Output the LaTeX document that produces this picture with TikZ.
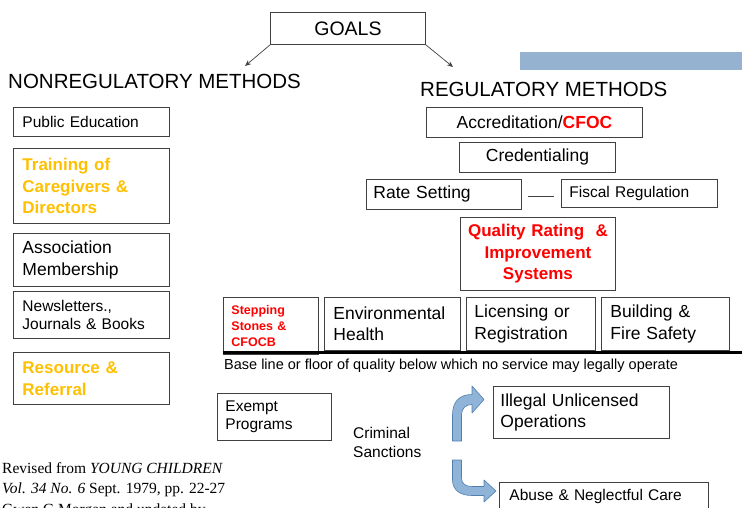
\documentclass[tikz,border=0pt]{standalone}
\usepackage{fontspec}
\setmainfont{Liberation Sans}
\newfontfamily\serifrm{Liberation Serif}
\usepackage{xcolor}
\usepackage{tikz}
\usetikzlibrary{arrows.meta}

\definecolor{goldtext}{HTML}{FFC000}
\definecolor{redtext}{HTML}{FF0000}
\definecolor{bandblue}{HTML}{95B3D0}
\definecolor{arrowfill}{HTML}{8FB4D8}
\definecolor{arrowline}{HTML}{4F7FAF}
\definecolor{boxline}{HTML}{404040}

\tikzset{
  method/.style={draw=boxline, line width=0.9pt, anchor=north west, align=left, inner xsep=9pt, inner ysep=0pt},
  centred/.style={align=center},
  small/.style={font=\fontsize{15.5}{18.5}\selectfont},
  large/.style={font=\fontsize{17.5}{21.5}\selectfont},
  highlight/.style={font=\bfseries\fontsize{17}{21.5}\selectfont},
  heading/.style={anchor=west, inner sep=0pt, font=\fontsize{20.5}{24}\selectfont},
  bentarrow/.style={fill=arrowfill, draw=arrowline, line width=0.6pt, line join=round},
}

\begin{document}
\begin{tikzpicture}[x=1pt, y=-1pt]
  \useasboundingbox (0,0) rectangle (742,508);
  \clip (0,0) rectangle (742,508);

  \node[method, centred, minimum width=155pt, minimum height=32pt, text width=137pt, font=\fontsize{19.5}{22}\selectfont] at (270,12) (goals) {GOALS};
  \coordinate (nonreg tip) at (245,66);
  \coordinate (reg tip) at (453,67);
  \draw[boxline, line width=0.7pt, -{Stealth[length=6pt, width=5pt]}] (goals.south west) -- (nonreg tip);
  \draw[boxline, line width=0.7pt, -{Stealth[length=6pt, width=5pt]}] (goals.south east) -- (reg tip);

  \fill[bandblue] (520,52) rectangle (742,70);

  \node[heading] at (8,81) (nonreg) {NONREGULATORY METHODS};
  \node[heading] at (420,89) (reg) {REGULATORY METHODS};

  % nonregulatory column
  \node[method, small, minimum width=156pt, minimum height=29pt, text width=138pt] at (13,107) (pubedu) {Public Education};
  \node[method, highlight, text=goldtext, minimum width=156pt, minimum height=75pt, text width=138pt] at (13,148) (training) {Training of\\Caregivers \&\\Directors};
  \node[method, large, minimum width=156pt, minimum height=53pt, text width=138pt] at (13,233) (assoc) {Association\\Membership};
  \node[method, small, minimum width=156pt, minimum height=47pt, text width=138pt] at (13,291) (news) {Newsletters.,\\Journals \& Books};
  \node[method, highlight, text=goldtext, minimum width=156pt, minimum height=52pt, text width=138pt] at (13,352) (referral) {Resource \&\\Referral};

  % regulatory column
  \node[method, large, centred, minimum width=216pt, minimum height=30pt, text width=198pt] at (426,107) (accred) {Accreditation/\textcolor{redtext}{\bfseries CFOC}};
  \node[method, large, centred, minimum width=156pt, minimum height=30pt, text width=138pt] at (459,142) (cred) {Credentialing};
  \node[method, large, inner xsep=7pt, minimum width=155pt, minimum height=30pt, text width=141pt] at (366,179) (rate) {Rate Setting};
  \node[method, small, inner xsep=8pt, minimum width=156pt, minimum height=28pt, text width=140pt] at (561,179) (fiscal) {Fiscal Regulation};
  \draw[boxline, line width=0.7pt] ([xshift=6pt, yshift=-2pt]rate.east) -- ([xshift=-7pt, yshift=-3pt]fiscal.west);
  \node[method, highlight, centred, text=redtext, inner xsep=2pt, minimum width=155pt, minimum height=73pt, text width=151pt] at (460,217) (qris) {Quality Rating\ \ \&\\Improvement\\Systems};

  \node[method, inner xsep=8pt, text=redtext, font=\bfseries\fontsize{12.5}{16}\selectfont, minimum width=95pt, minimum height=57pt, text width=79pt] at (223,297) (stones) {Stepping\\Stones \&\\CFOCB};
  \node[method, large, minimum width=136pt, minimum height=53pt, text width=118pt] at (324,297) (envhealth) {Environmental\\Health};
  \node[method, large, inner xsep=8pt, minimum width=129pt, minimum height=53pt, text width=113pt] at (466,297) (licensing) {Licensing or\\Registration};
  \node[method, large, minimum width=128pt, minimum height=53pt, text width=110pt] at (601,297) (building) {Building \&\\Fire Safety};

  \coordinate (floor start) at (223,352);
  \coordinate (floor end) at (742,352);
  \draw[line width=3pt] (floor start) -- (floor end);
  \node[anchor=west, inner sep=0pt, font=\fontsize{14.5}{17}\selectfont] at (224,366) (floor) {Base line or floor of quality below which no service may legally operate};

  % below the floor
  \node[method, small, inner xsep=8pt, minimum width=114pt, minimum height=47pt, text width=98pt] at (217,393) (exempt) {Exempt\\Programs};
  \node[anchor=west, inner sep=0pt, align=left, font=\fontsize{15.5}{19}\selectfont] at (353,442.5) (sanctions) {Criminal\\Sanctions};
  \node[method, large, inner xsep=7pt, minimum width=176pt, minimum height=52pt, text width=162pt] at (493,386) (illegal) {Illegal Unlicensed\\Operations};
  \node[method, small, inner xsep=10pt, minimum width=209pt, minimum height=28pt, text width=189pt] at (499,482) (abuse) {Abuse \& Neglectful Care};

  \draw[bentarrow] (452.5,441) -- (452.5,415) .. controls (452.5,401) and (460,394.5) .. (472,394.5) -- (472,386) -- (484,399.5) -- (472,413) -- (472,404.5) .. controls (466,404.5) and (461.5,408) .. (461.5,415) -- (461.5,441) -- cycle;
  \draw[bentarrow] (452.5,460) -- (452.5,480) .. controls (452.5,490) and (460,495.5) .. (472,495.5) -- (484,495.5) -- (484,502) -- (496,491) -- (484,480) -- (484,486.5) -- (472,486.5) .. controls (466,486.5) and (461.5,484) .. (461.5,478) -- (461.5,460) -- cycle;

  \node[anchor=base west, inner sep=0pt, align=left, font=\serifrm\fontsize{15.5}{20.5}\selectfont] at (2,514) (source) {Revised from \textit{YOUNG CHILDREN}\\\textit{Vol. 34 No. 6} Sept. 1979, pp. 22-27\\Gwen G Morgan and updated by};
\end{tikzpicture}
\end{document}
